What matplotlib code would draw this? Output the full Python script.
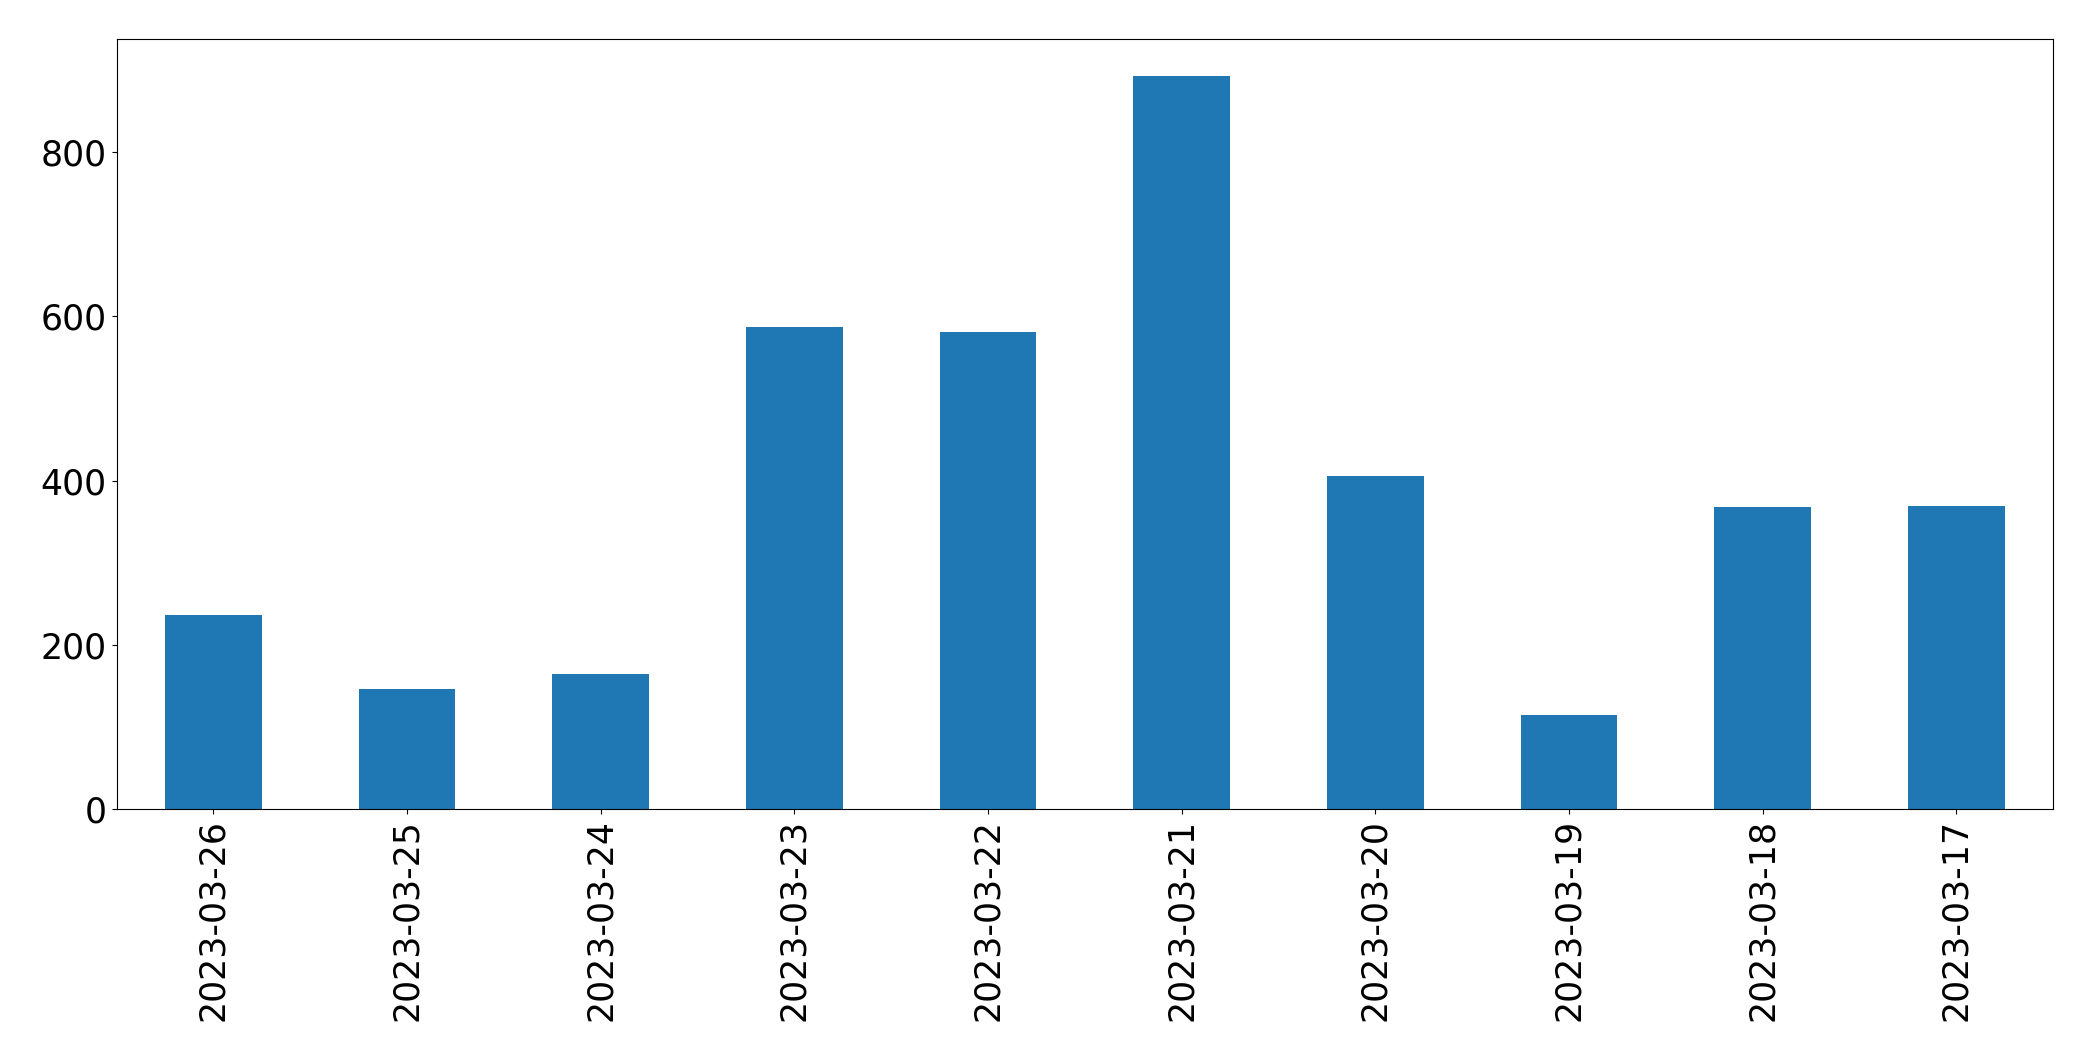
import matplotlib
matplotlib.use("Agg")
import matplotlib.pyplot as plt
import numpy as np

# dates (newest first, as in the original) and daily counts
dates = ["2023-03-26", "2023-03-25", "2023-03-24", "2023-03-23", "2023-03-22",
         "2023-03-21", "2023-03-20", "2023-03-19", "2023-03-18", "2023-03-17"]
counts = [236, 146, 164, 587, 581, 893, 406, 114, 368, 369]

fig, ax = plt.subplots(figsize=(20.93, 10.61), dpi=100)
fig.subplots_adjust(left=0.0557, right=0.981, top=0.963, bottom=0.2375)

x = np.arange(len(dates))
ax.bar(x, counts, width=0.5, color='#1f77b4')

ax.set_xlim(-0.5, len(dates) - 0.5)
ax.set_xticks(x)
ax.set_xticklabels(dates, rotation=90)
ax.tick_params(axis='both', labelsize=25)

plt.savefig("out.png", dpi=100)
